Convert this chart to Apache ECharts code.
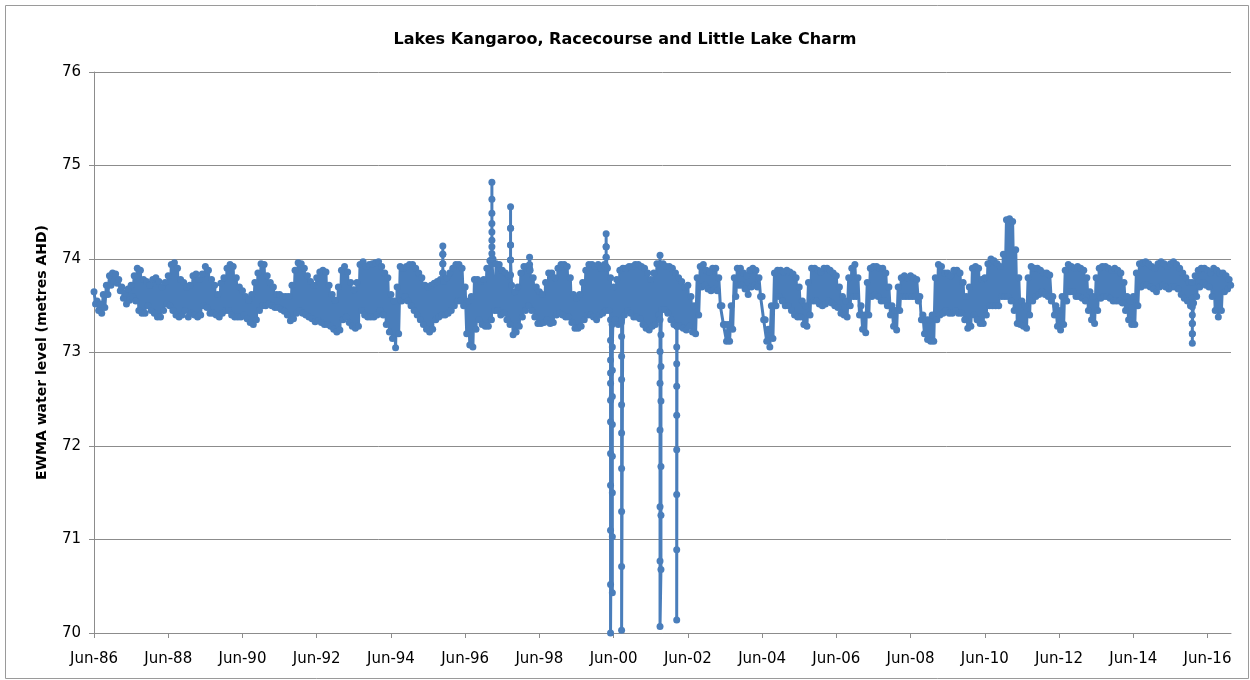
<!DOCTYPE html>
<html>
<head>
<meta charset="utf-8">
<script src="https://cdn.jsdelivr.net/npm/echarts@6/dist/echarts.min.js"></script>
<style>
html,body{margin:0;padding:0;background:#ffffff;}
#chart{width:1250px;height:680px;}
</style>
</head>
<body>
<div id="chart"></div>
<script>
// ---------------- DATA ----------------
const titleText = 'Lakes Kangaroo, Racecourse and Little Lake Charm';
const yAxisTitle = 'EWMA water level (metres AHD)';
const seriesStart = '1986-06';           // first month of the monthly arrays
const xTickLabels = ['Jun-86','Jun-88','Jun-90','Jun-92','Jun-94','Jun-96','Jun-98','Jun-00',
                     'Jun-02','Jun-04','Jun-06','Jun-08','Jun-10','Jun-12','Jun-14','Jun-16'];
const yTickValues = [70, 71, 72, 73, 74, 75, 76];

// monthly upper readings (metres AHD), Jun-86 onwards
const upperLevels = [
73.65,73.55,73.52,73.62,73.72,73.82,73.85,73.84,73.78,73.70,73.64,73.68,
73.72,73.82,73.90,73.88,73.78,73.76,73.72,73.78,73.80,73.76,73.70,73.75,
73.82,73.94,73.96,73.90,73.78,73.75,73.70,73.72,73.82,73.84,73.78,73.84,
73.92,73.88,73.78,73.72,73.62,73.74,73.80,73.90,73.94,73.92,73.80,73.70,
73.66,73.60,73.56,73.62,73.75,73.85,73.95,73.94,73.82,73.75,73.70,73.62,
73.62,73.60,73.60,73.60,73.72,73.88,73.96,73.95,73.90,73.82,73.76,73.72,
73.80,73.86,73.88,73.86,73.72,73.62,73.56,73.70,73.88,73.92,73.86,73.75,
73.67,73.75,73.94,73.97,73.92,73.94,73.95,73.96,73.97,73.92,73.85,73.80,
73.62,73.55,73.70,73.92,73.90,73.92,73.94,73.94,73.90,73.85,73.80,73.72,
73.70,73.72,73.74,73.76,73.78,73.76,73.80,73.85,73.90,73.94,73.94,73.90,
73.70,73.55,73.60,73.78,73.78,73.76,73.78,73.90,73.98,74.00,73.95,73.94,
73.88,73.85,73.82,73.72,73.65,73.70,73.85,73.92,73.92,73.88,73.80,73.70,
73.65,73.62,73.75,73.85,73.85,73.80,73.90,73.94,73.94,73.92,73.80,73.62,
73.58,73.62,73.75,73.88,73.94,73.94,73.92,73.94,73.90,73.94,73.90,73.80,
73.70,73.78,73.88,73.90,73.90,73.92,73.92,73.94,73.94,73.92,73.90,73.85,
73.78,73.85,73.95,74.04,73.95,73.92,73.92,73.90,73.85,73.80,73.76,73.70,
73.72,73.60,73.50,73.80,73.92,73.94,73.88,73.86,73.90,73.90,73.80,73.50,
73.30,73.30,73.50,73.80,73.90,73.90,73.85,73.82,73.88,73.90,73.88,73.80,
73.60,73.35,73.25,73.50,73.85,73.88,73.88,73.86,73.88,73.86,73.84,73.80,
73.70,73.55,73.50,73.75,73.90,73.90,73.88,73.86,73.90,73.90,73.88,73.85,
73.82,73.70,73.60,73.55,73.80,73.90,73.94,73.80,73.50,73.40,73.75,73.90,
73.92,73.92,73.90,73.90,73.85,73.70,73.50,73.45,73.70,73.80,73.82,73.80,
73.82,73.80,73.78,73.60,73.40,73.35,73.35,73.40,73.80,73.94,73.92,73.85,
73.85,73.82,73.88,73.88,73.85,73.75,73.60,73.70,73.90,73.92,73.90,73.78,
73.80,73.95,74.00,73.98,73.95,73.92,74.05,74.42,74.43,74.40,74.10,73.80,
73.55,73.50,73.80,73.92,73.90,73.90,73.88,73.85,73.85,73.83,73.60,73.50,
73.45,73.60,73.88,73.94,73.92,73.90,73.92,73.90,73.88,73.80,73.65,73.60,
73.80,73.90,73.92,73.92,73.90,73.88,73.90,73.88,73.85,73.75,73.60,73.55,
73.60,73.85,73.95,73.96,73.97,73.95,73.92,73.90,73.95,73.97,73.95,73.92,
73.95,73.97,73.94,73.90,73.85,73.80,73.75,73.75,73.82,73.88,73.90,73.90,
73.88,73.85,73.90,73.88,73.85,73.85,73.82,73.78
];

// monthly lower readings (metres AHD), Jun-86 onwards
const lowerLevels = [
73.52,73.45,73.42,73.48,73.62,73.72,73.76,73.74,73.66,73.58,73.52,73.56,
73.60,73.55,73.45,73.42,73.42,73.50,73.45,73.42,73.38,73.38,73.45,73.52,
73.50,73.45,73.40,73.38,73.40,73.45,73.38,73.42,73.40,73.38,73.40,73.50,
73.48,73.42,73.42,73.40,73.38,73.42,73.45,73.45,73.40,73.38,73.38,73.38,
73.40,73.36,73.32,73.30,73.35,73.45,73.50,73.50,73.52,73.50,73.48,73.48,
73.46,73.44,73.40,73.34,73.36,73.42,73.45,73.42,73.40,73.38,73.36,73.33,
73.34,73.32,73.30,73.30,73.28,73.25,73.22,73.24,73.35,73.38,73.32,73.28,
73.26,73.28,73.45,73.40,73.38,73.38,73.38,73.40,73.45,73.40,73.30,73.22,
73.15,73.05,73.20,73.55,73.60,73.55,73.50,73.45,73.40,73.35,73.30,73.25,
73.22,73.25,73.35,73.38,73.40,73.40,73.42,73.45,73.50,73.55,73.55,73.50,
73.20,73.08,73.06,73.25,73.35,73.30,73.28,73.28,73.35,73.45,73.45,73.40,
73.42,73.35,73.30,73.19,73.22,73.28,73.38,73.45,73.50,73.45,73.38,73.31,
73.31,73.32,73.35,73.31,73.32,73.40,73.42,73.40,73.38,73.38,73.32,73.26,
73.26,73.28,73.35,73.40,73.40,73.38,73.35,73.40,73.42,73.45,73.45,73.30,
73.35,73.30,73.32,73.40,73.45,73.42,73.38,73.38,73.36,73.30,73.26,73.24,
73.28,73.30,73.40,73.46,73.46,73.42,73.35,73.30,73.28,73.28,73.26,73.24,
73.28,73.22,73.20,73.40,73.70,73.72,73.68,73.66,73.68,73.66,73.50,73.30,
73.12,73.12,73.25,73.60,73.72,73.72,73.68,73.62,73.70,73.72,73.70,73.60,
73.35,73.12,73.06,73.15,73.50,73.60,73.55,73.50,73.50,73.45,73.40,73.38,
73.38,73.30,73.28,73.40,73.55,73.55,73.52,73.50,73.52,73.55,73.53,73.50,
73.48,73.42,73.40,73.38,73.50,73.60,73.60,73.40,73.25,73.21,73.40,73.60,
73.62,73.60,73.55,73.55,73.50,73.40,73.28,73.24,73.45,73.60,73.60,73.60,
73.60,73.60,73.55,73.35,73.20,73.14,73.12,73.12,73.35,73.40,73.42,73.45,
73.42,73.42,73.45,73.42,73.42,73.35,73.26,73.28,73.40,73.35,73.31,73.31,
73.40,73.50,73.50,73.50,73.50,73.60,73.60,73.60,73.55,73.45,73.31,73.30,
73.28,73.26,73.40,73.55,73.60,73.62,73.65,73.62,73.60,73.55,73.40,73.28,
73.24,73.30,73.55,73.65,73.65,73.60,73.60,73.58,73.55,73.45,73.35,73.31,
73.45,73.58,73.60,73.60,73.58,73.55,73.55,73.55,73.53,73.45,73.35,73.30,
73.30,73.50,73.70,73.72,73.72,73.70,73.68,73.65,73.70,73.72,73.70,73.68,
73.70,73.70,73.68,73.62,73.58,73.55,73.50,73.53,73.60,73.70,73.75,73.72,
73.70,73.60,73.45,73.38,73.45,73.65,73.68,73.72
];

// short runs of individual readings far from the usual range
const spike1995   = { date: '1995-10-25', levels: [73.85, 73.95, 74.05, 74.14, 74.05, 73.95, 73.85] };
const spike1997a  = { date: '1997-02-19', levels: [73.95, 74.06, 74.20, 74.38, 74.64, 74.82, 74.49, 74.29, 74.13, 74.00] };
const spike1997b  = { date: '1997-08-22', levels: [73.83, 73.99, 74.15, 74.33, 74.56, 74.33, 74.15, 73.99] };
const bump1998    = { date: '1998-02-24', levels: [73.90, 74.02, 73.94] };
const spike2000   = { date: '2000-03-19', levels: [73.92, 74.02, 74.13, 74.27, 74.13, 74.02] };
const drop2000a   = { date: '2000-05-01', levels: [73.35, 73.13, 72.92, 72.78, 72.67, 72.49, 72.26, 71.92, 71.58, 71.10, 70.52, 70.00] };
const drop2000b   = { date: '2000-05-19', levels: [70.43, 71.03, 71.50, 71.89, 72.23, 72.53, 72.81, 73.06] };
const drop2000c   = { date: '2000-08-19', levels: [73.35, 73.17, 72.96, 72.71, 72.44, 72.14, 71.76, 71.30, 70.71, 70.03] };
const drop2001a   = { date: '2001-09-01', levels: [73.35, 73.01, 72.67, 72.17, 71.35, 70.77, 70.07] };
const drop2001b   = { date: '2001-09-10', levels: [70.68, 71.26, 71.78, 72.48, 72.85, 73.19] };
const drop2002    = { date: '2002-02-12', levels: [73.28, 73.06, 72.88, 72.64, 72.33, 71.96, 71.48, 70.89, 70.14] };
const drop2016    = { date: '2016-01-04', levels: [73.58, 73.49, 73.40, 73.31, 73.20, 73.10, 73.20, 73.31] };

// ---------------- BUILD ----------------
const [startY, startM] = seriesStart.split('-').map(Number);
function monthIndex(dateStr) {
  const [y, m, d] = dateStr.split('-').map(Number);
  const dim = new Date(y, m, 0).getDate();
  return (y - startY) * 12 + (m - startM) + ((d || 1) - 1) / dim;
}
const excursions = [spike1995, spike1997a, spike1997b, bump1998, spike2000, drop2000a, drop2000b,
                    drop2000c, drop2001a, drop2001b, drop2002, drop2016];

const points = [];
upperLevels.forEach((u, i) => {
  points.push([i, u]);
  points.push([i + 0.5, lowerLevels[i]]);
});
excursions.forEach(ex => {
  const x = monthIndex(ex.date);
  ex.levels.forEach(v => points.push([x, v]));
});
points.sort((a, b) => a[0] - b[0]);

const tickValues = xTickLabels.map(lbl => {
  const yy = parseInt(lbl.slice(4), 10);
  const year = yy >= 50 ? 1900 + yy : 2000 + yy;
  return monthIndex(year + '-06-01');
});

const blue = '#4A7EBB';
const gridGray = '#8C8C8C';
const font = 'DejaVu Sans';

const chart = echarts.init(document.getElementById('chart'), null, { renderer: 'canvas' });
chart.setOption({
  animation: false,
  backgroundColor: '#ffffff',
  title: {
    text: titleText,
    left: 'center',
    top: 27,
    textStyle: { fontFamily: font, fontSize: 16, fontWeight: 'bold', color: '#000000' }
  },
  graphic: [{
    type: 'rect', left: 3, top: 3, silent: true,
    shape: { width: 1243, height: 673 },
    style: { fill: 'none', stroke: '#9A9A9A', lineWidth: 1 }
  }],
  grid: { left: 94, right: 19, top: 72, bottom: 47 },
  xAxis: {
    type: 'value',
    min: 0,
    max: 367.6,
    axisLine: { show: true, onZero: false, lineStyle: { color: gridGray, width: 1 } },
    axisTick: { show: true, customValues: tickValues, length: 5, lineStyle: { color: gridGray } },
    axisLabel: {
      customValues: tickValues,
      formatter: v => {
        const idx = tickValues.findIndex(t => Math.abs(t - v) < 1e-6);
        return idx >= 0 ? xTickLabels[idx] : '';
      },
      margin: 19,
      fontFamily: font, fontSize: 15, color: '#000000'
    },
    splitLine: { show: false }
  },
  yAxis: {
    type: 'value',
    min: yTickValues[0],
    max: yTickValues[yTickValues.length - 1],
    interval: 1,
    name: yAxisTitle,
    nameLocation: 'middle',
    nameGap: 45,
    nameTextStyle: { fontFamily: font, fontSize: 14, fontWeight: 'bold', color: '#000000' },
    axisLine: { show: true, lineStyle: { color: gridGray, width: 1 } },
    axisTick: { show: true, length: 5, lineStyle: { color: gridGray } },
    axisLabel: { margin: 13, fontFamily: font, fontSize: 15, color: '#000000' },
    splitLine: { show: true, lineStyle: { color: gridGray, width: 1 } }
  },
  series: [{
    type: 'line',
    data: points,
    symbol: 'circle',
    symbolSize: 7,
    showAllSymbol: true,
    lineStyle: { color: blue, width: 3 },
    itemStyle: { color: blue },
    emphasis: { disabled: true },
    silent: true
  }]
});
</script>
</body>
</html>
